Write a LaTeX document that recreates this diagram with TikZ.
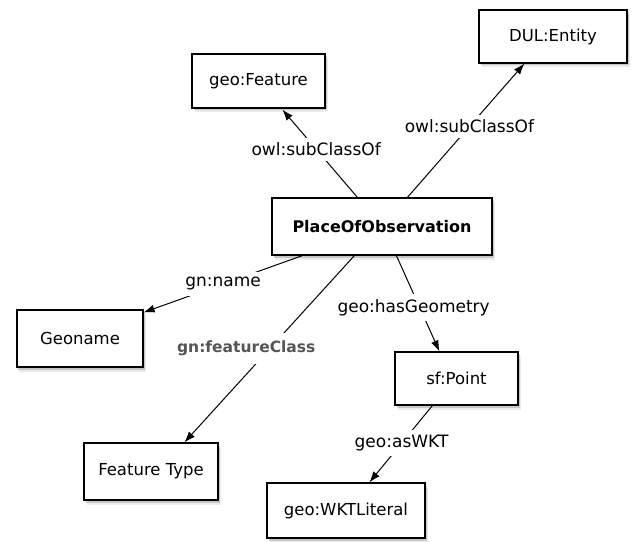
\documentclass[tikz,border=0pt]{standalone}
\usepackage{fontspec}
\setmainfont{DejaVu Sans}
\usetikzlibrary{arrows.meta,shadows,calc}
\definecolor{lblgray}{HTML}{555555}
\begin{document}
\begin{tikzpicture}[x=1bp,y=-1bp,
  box/.style={draw=black,line width=1.2bp,fill=white,minimum width=#1,inner sep=0pt,
    font=\fontsize{16.5bp}{19bp}\selectfont,
    drop shadow={shadow xshift=2.5bp,shadow yshift=-4.5bp,opacity=0.15},
    drop shadow={shadow xshift=1.5bp,shadow yshift=-2.5bp,opacity=0.35}},
  conn/.style={line width=1bp,-{Latex[length=11bp,width=8bp]}},
  lbl/.style={fill=white,inner xsep=2bp,inner ysep=5bp,font=\fontsize{17bp}{20bp}\selectfont}]
\useasboundingbox (0,0) rectangle (635,542);
\node[box=133bp,minimum height=54bp] (feat) at (258.5,81) {geo:Feature};
\node[box=148bp,minimum height=53bp] (dul) at (553,36.5) {DUL:Entity};
\node[box=220bp,minimum height=57bp,font=\fontsize{16bp}{19bp}\selectfont\bfseries] (poo) at (382,226.5) {PlaceOfObservation};
\node[box=126bp,minimum height=57bp] (geoname) at (80,338.5) {Geoname};
\node[box=123bp,minimum height=53bp] (sfp) at (456.5,378.5) {sf:Point};
\node[box=134bp,minimum height=57bp] (ftype) at (151,471.5) {Feature Type};
\node[box=158bp,minimum height=55bp] (wkt) at (346,510.5) {geo:WKTLiteral};

\draw[conn] ([xshift=86bp]poo.north west) -- node[lbl,pos=0.55]{owl:subClassOf} ([xshift=91bp,yshift=-1bp]feat.south west);
\draw[conn] ([xshift=136bp]poo.north west) -- node[lbl,pos=0.53]{owl:subClassOf} ([xshift=46bp]dul.south west);
\draw[conn] ([xshift=31bp]poo.south west) -- node[lbl,pos=0.5]{gn:name} ([yshift=-3bp]geoname.north east);
\draw[conn] ([xshift=83bp]poo.south west) -- node[lbl,pos=0.495,xshift=-24bp,inner ysep=8bp,text=lblgray,font=\fontsize{15.5bp}{19bp}\selectfont\bfseries]{gn:featureClass} ([xshift=101bp]ftype.north west);
\draw[conn] ([xshift=125bp]poo.south west) -- node[lbl,pos=0.54,xshift=-6bp]{geo:hasGeometry} ([xshift=45bp]sfp.north west);
\draw[conn] ([xshift=38bp]sfp.south west) -- node[lbl,pos=0.49]{geo:asWKT} ([xshift=103bp]wkt.north west);
\end{tikzpicture}
\end{document}
